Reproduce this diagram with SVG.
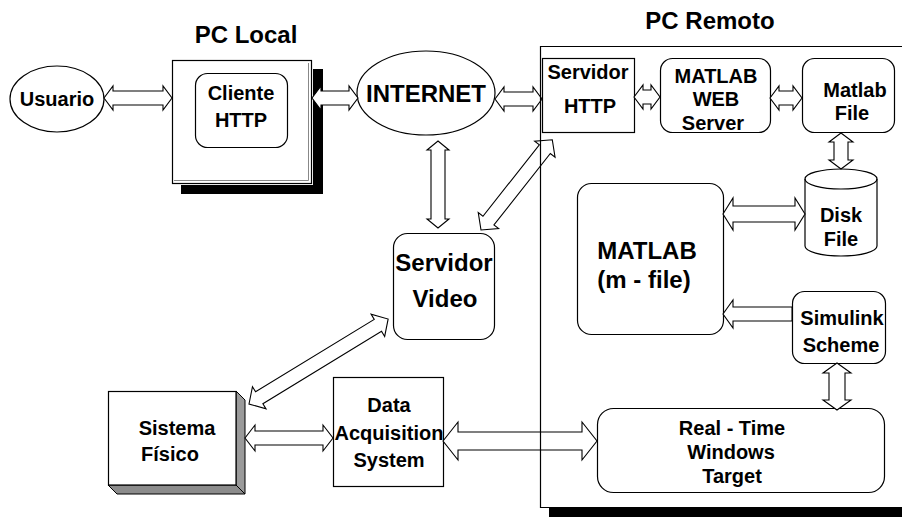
<svg xmlns="http://www.w3.org/2000/svg" width="902" height="517" viewBox="0 0 902 517">
<style>
text{font-family:"Liberation Sans",Arial,Helvetica,sans-serif;font-weight:bold;fill:#000;text-anchor:middle}
.t20{font-size:20px}
.t24{font-size:24px}
.box{fill:#fff;stroke:#000;stroke-width:1.2}
.arr{fill:#fff;stroke:#000;stroke-width:1.1;stroke-linejoin:miter}
</style>
<rect width="902" height="517" fill="#fff"/>
<text class="t24" x="246" y="43">PC Local</text>
<text class="t24" x="710" y="29">PC Remoto</text>

<g id="usuario">
<ellipse class="box" cx="57" cy="99" rx="47" ry="33"/>
<text class="t20" x="57" y="106">Usuario</text>
</g>

<g id="pc-local">
<rect x="181" y="69" width="142" height="125" fill="#000"/>
<rect x="172" y="60" width="141" height="125" fill="#fff"/>
<rect class="box" x="172.5" y="60.5" width="139" height="123"/>
<polyline points="308.5,63 308.5,180.5 174,180.5" fill="none" stroke="#888" stroke-width="1"/>
</g>

<g id="cliente-http">
<rect class="box" x="195.5" y="73.5" width="92" height="74" rx="12"/>
<text class="t20" x="241" y="100">Cliente</text>
<text class="t20" x="241" y="127">HTTP</text>
</g>

<g id="internet">
<ellipse class="box" cx="426" cy="93" rx="69" ry="42"/>
<text class="t24" x="426" y="102">INTERNET</text>
</g>

<g id="servidor-http">
<rect class="box" x="542.5" y="58.5" width="92" height="74"/>
<text class="t20" x="588" y="79">Servidor</text>
<text class="t20" x="590" y="113">HTTP</text>
</g>

<g id="matlab-web-server">
<rect class="box" x="660.5" y="58.5" width="110" height="74" rx="12"/>
<text class="t20" x="716" y="83">MATLAB</text>
<text class="t20" x="716" y="106">WEB</text>
<text class="t20" x="713" y="130">Server</text>
</g>

<g id="matlab-file">
<rect class="box" x="802.5" y="58.5" width="92" height="74" rx="12"/>
<text class="t20" x="855" y="97">Matlab</text>
<text class="t20" x="852" y="120">File</text>
</g>

<g id="disk-file">
<path class="box" d="M805,179 A36,10 0 0,1 877,179 L877,246 A36,10 0 0,1 805,246 Z"/>
<path d="M805,179 A36,10 0 0,0 877,179" fill="none" stroke="#000" stroke-width="1.2"/>
<text class="t20" x="841" y="222">Disk</text>
<text class="t20" x="841" y="246">File</text>
</g>

<g id="matlab-m-file">
<rect class="box" x="577.5" y="183.5" width="146" height="151" rx="14"/>
<text class="t24" x="647" y="259">MATLAB</text>
<text class="t24" x="644" y="288">(m - file)</text>
</g>

<g id="simulink-scheme">
<rect class="box" x="792.5" y="291.5" width="93" height="72" rx="12"/>
<text class="t20" x="842" y="325">Simulink</text>
<text class="t20" x="841" y="352">Scheme</text>
</g>

<g id="real-time-windows-target">
<rect class="box" x="597.5" y="408.5" width="287" height="84" rx="16"/>
<text class="t20" x="732" y="435">Real - Time</text>
<text class="t20" x="731" y="459">Windows</text>
<text class="t20" x="732" y="483">Target</text>
</g>

<g id="data-acquisition-system">
<rect class="box" x="333.5" y="377.5" width="110" height="109"/>
<text class="t20" x="389" y="412">Data</text>
<text class="t20" x="389" y="440">Acquisition</text>
<text class="t20" x="389" y="467">System</text>
</g>

<g id="sistema-fisico">
<polygon points="236,391 245,400 245,494 236,485" fill="#9a9a9a" stroke="#000" stroke-width="1"/>
<polygon points="108,485 236,485 245,494 117,494" fill="#8c8c8c" stroke="#000" stroke-width="1"/>
<rect class="box" x="108.5" y="391.5" width="127.5" height="93.5"/>
<text class="t20" x="177" y="435">Sistema</text>
<text class="t20" x="170" y="461">Físico</text>
</g>

<g id="servidor-video">
<rect class="box" x="393.5" y="233.5" width="101" height="106" rx="14"/>
<text class="t24" x="444" y="271">Servidor</text>
<text class="t24" x="445" y="307">Video</text>
</g>

<g id="connectors">
<path class="arr" transform="translate(104,98)" d="M0,0 L9,-12 L9,-7 L59,-7 L59,-12 L68,0 L59,12 L59,7 L9,7 L9,12 Z"/>
<path class="arr" transform="translate(312,98)" d="M0,0 L9,-12 L9,-7 L37,-7 L37,-12 L46,0 L37,12 L37,7 L9,7 L9,12 Z"/>
<path class="arr" transform="translate(495,99)" d="M0,0 L9,-12 L9,-7 L38,-7 L38,-12 L47,0 L38,12 L38,7 L9,7 L9,12 Z"/>
<path class="arr" transform="translate(634,97)" d="M0,0 L9,-12 L9,-7 L17,-7 L17,-12 L26,0 L17,12 L17,7 L9,7 L9,12 Z"/>
<path class="arr" transform="translate(770,98)" d="M0,0 L9,-12 L9,-7 L23,-7 L23,-12 L32,0 L23,12 L23,7 L9,7 L9,12 Z"/>
<path class="arr" transform="translate(841,133) rotate(90)" d="M0,0 L9,-12 L9,-7 L27,-7 L27,-12 L36,0 L27,12 L27,7 L9,7 L9,12 Z"/>
<path class="arr" transform="translate(723,214)" d="M0,0 L10,-16 L10,-8 L72,-8 L72,-16 L82,0 L72,16 L72,8 L10,8 L10,16 Z"/>
<path class="arr" transform="translate(723,314)" d="M0,0 L10,-14 L10,-7 L69,-7 L69,7 L10,7 L10,14 Z"/>
<path class="arr" transform="translate(837,363) rotate(90)" d="M0,0 L10,-14 L10,-8 L37,-8 L37,-14 L47,0 L37,14 L37,8 L10,8 L10,14 Z"/>
<path class="arr" transform="translate(245,438)" d="M0,0 L10,-13 L10,-7 L78,-7 L78,-13 L88,0 L78,13 L78,7 L10,7 L10,13 Z"/>
<path class="arr" transform="translate(443,441)" d="M0,0 L15,-19 L15,-9 L139,-9 L139,-19 L154,0 L139,19 L139,9 L15,9 L15,19 Z"/>
<path class="arr" transform="translate(438,141) rotate(90)" d="M0,0 L9,-11 L9,-7 L78,-7 L78,-11 L87,0 L78,11 L78,7 L9,7 L9,11 Z"/>
<path class="arr" transform="translate(481,230) rotate(-51.7)" d="M0,0 L12,-13 L12,-7 L103,-7 L103,-13 L115,0 L103,13 L103,7 L12,7 L12,13 Z"/>
<path class="arr" transform="translate(249,404) rotate(-31.4)" d="M0,0 L12,-13 L12,-7 L151,-7 L151,-13 L163,0 L151,13 L151,7 L12,7 L12,13 Z"/>
</g>

<g id="pc-remoto">
<path d="M902,46.5 H540.5 V507.5 H902" fill="none" stroke="#000" stroke-width="1.2"/>
<rect x="549" y="508" width="353" height="9" fill="#000"/>
</g>
</svg>
